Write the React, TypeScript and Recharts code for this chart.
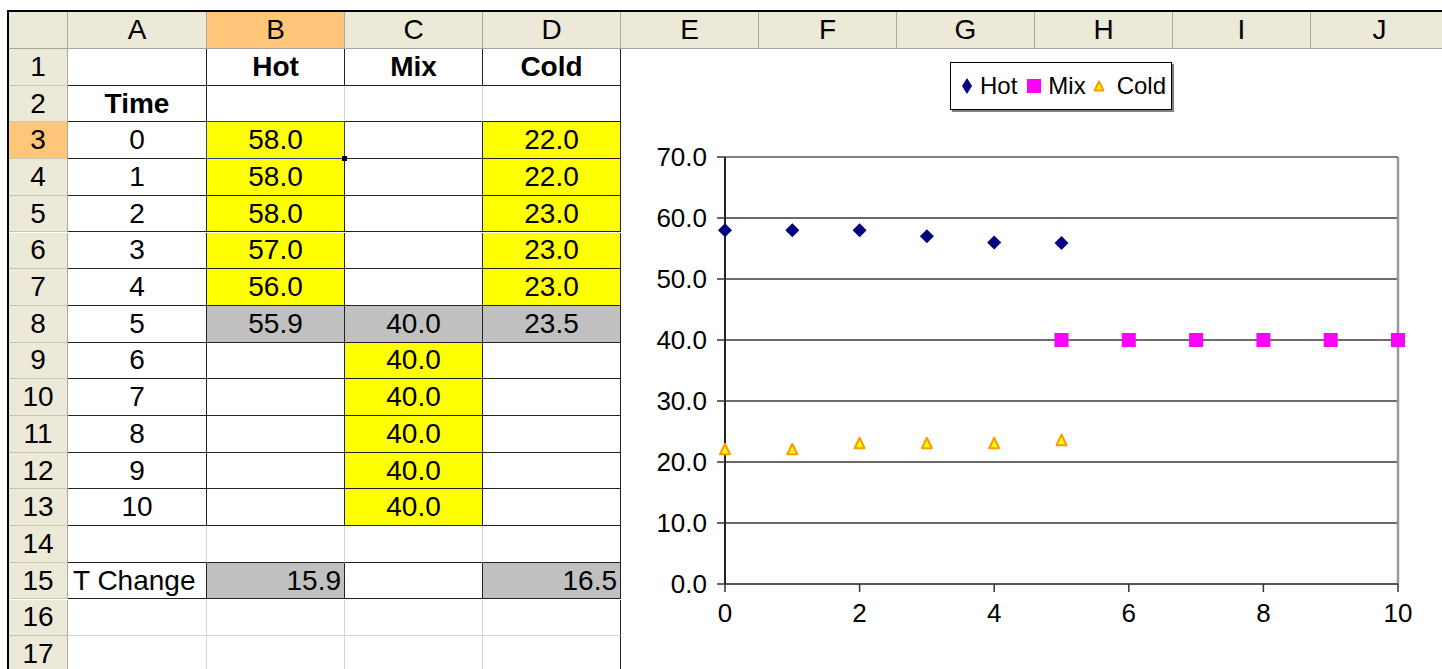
import React from 'react';
import { ScatterChart, Scatter, XAxis, YAxis, CartesianGrid, ReferenceLine, Legend } from 'recharts';

// ---------- data ----------
const seriesNames = ['Hot', 'Mix', 'Cold'];
const timeLabel = 'Time';
const times = [0, 1, 2, 3, 4, 5, 6, 7, 8, 9, 10];
const hotTimes = [0, 1, 2, 3, 4, 5];
const hotTemps = [58.0, 58.0, 58.0, 57.0, 56.0, 55.9];
const mixTimes = [5, 6, 7, 8, 9, 10];
const mixTemps = [40.0, 40.0, 40.0, 40.0, 40.0, 40.0];
const coldTimes = [0, 1, 2, 3, 4, 5];
const coldTemps = [22.0, 22.0, 23.0, 23.0, 23.0, 23.5];
const tChangeLabel = 'T Change';
const tChangeValues: (number | null)[] = [15.9, null, 16.5];
const columnLetters = ['A', 'B', 'C', 'D', 'E', 'F', 'G', 'H', 'I', 'J'];
const rowNumbers = [1, 2, 3, 4, 5, 6, 7, 8, 9, 10, 11, 12, 13, 14, 15, 16, 17];
const xTicks = [0, 2, 4, 6, 8, 10];
const yTicks = [0, 10, 20, 30, 40, 50, 60, 70];

// ---------- layout ----------
const FONT = "'Liberation Sans', Arial, sans-serif";
const colX = [68, 207, 345, 483, 621, 759, 897, 1035, 1173, 1311, 1449];
const HEADER_TOP = 12;
const HEADER_BOTTOM = 49;
const ROW_H = 36.7;
const rowTop = (r: number) => HEADER_BOTTOM + (r - 1) * ROW_H;
const BEIGE = '#ECE9D8';
const ORANGE = '#FFC67A';
const YELLOW = '#FFFF00';
const GRAY = '#C0C0C0';
const LIGHT = '#D4D4D4';

const hotPts = hotTimes.map((t, i) => ({ x: t, y: hotTemps[i] }));
const mixPts = mixTimes.map((t, i) => ({ x: t, y: mixTemps[i] }));
const coldPts = coldTimes.map((t, i) => ({ x: t, y: coldTemps[i] }));

type CellInfo = { text: string; fill: string; bold?: boolean; align: 'center' | 'left' | 'right' };

function seriesCell(t: number, ts: number[], vs: number[]): CellInfo {
  const idx = ts.indexOf(t);
  if (idx < 0) return { text: '', fill: '#fff', align: 'center' };
  const shared = t === mixTimes[0];
  return { text: vs[idx].toFixed(1), fill: shared ? GRAY : YELLOW, align: 'center' };
}

function getCell(r: number, c: number): CellInfo {
  const empty: CellInfo = { text: '', fill: '#fff', align: 'center' };
  if (r === 1) {
    if (c === 0) return empty;
    return { text: seriesNames[c - 1], fill: '#fff', bold: true, align: 'center' };
  }
  if (r === 2) {
    if (c === 0) return { text: timeLabel, fill: '#fff', bold: true, align: 'center' };
    return empty;
  }
  if (r >= 3 && r <= 13) {
    const t = times[r - 3];
    if (c === 0) return { text: String(t), fill: '#fff', align: 'center' };
    if (c === 1) return seriesCell(t, hotTimes, hotTemps);
    if (c === 2) return seriesCell(t, mixTimes, mixTemps);
    return seriesCell(t, coldTimes, coldTemps);
  }
  if (r === 15) {
    if (c === 0) return { text: tChangeLabel, fill: '#fff', align: 'left' };
    const v = tChangeValues[c - 1];
    if (v == null) return empty;
    return { text: v.toFixed(1), fill: GRAY, align: 'right' };
  }
  return empty;
}

function cellBorders(r: number, c: number) {
  const bottomBlack = r <= 15;
  let rightBlack = (r <= 13 || r === 15) && !(r === 2 && (c === 1 || c === 2));
  if (c === 3) rightBlack = true;
  return {
    borderBottom: `1.5px solid ${bottomBlack ? '#222' : LIGHT}`,
    borderRight: `1.5px solid ${rightBlack ? '#222' : LIGHT}`,
  };
}

// ---------- marker shapes ----------
const HotShape = (p: any) => (
  <path
    d={`M${p.cx},${p.cy - 7}L${p.cx + 7},${p.cy}L${p.cx},${p.cy + 7}L${p.cx - 7},${p.cy}Z`}
    fill="#000080"
  />
);
const MixShape = (p: any) => <rect x={p.cx - 7} y={p.cy - 7} width={14} height={14} fill="#FF00FF" />;
const ColdShape = (p: any) => (
  <path
    d={`M${p.cx},${p.cy - 6}L${p.cx + 5},${p.cy + 4.5}L${p.cx - 5},${p.cy + 4.5}Z`}
    fill="#FFFF00"
    stroke="#FF9900"
    strokeWidth={2}
    strokeLinejoin="round"
  />
);

const legendIcons = [
  <svg key="h" width={12} height={18}><path d="M6,1L11,9L6,17L1,9Z" fill="#000080" /></svg>,
  <svg key="m" width={14} height={14}><rect x={0} y={0} width={14} height={14} fill="#FF00FF" /></svg>,
  <svg key="c" width={12} height={12}><path d="M6,1.5L10.5,10.5L1.5,10.5Z" fill="#FFFF00" stroke="#FF9900" strokeWidth={2} strokeLinejoin="round" /></svg>,
];

const LegendBox = () => (
  <div
    style={{
      width: 222,
      height: 48,
      boxSizing: 'border-box',
      border: '1.5px solid #000',
      boxShadow: '2px 2px 0 #808080',
      background: '#fff',
      display: 'flex',
      alignItems: 'center',
      paddingLeft: 10,
      fontFamily: FONT,
      fontSize: 24,
      color: '#000',
    }}
  >
    {seriesNames.map((n, i) => (
      <span key={n} style={{ display: 'flex', alignItems: 'center', marginRight: i === 0 ? 10 : i === 1 ? 7 : 0 }}>
        {legendIcons[i]}
        <span style={{ marginLeft: i === 2 ? 12 : 7 }}>{n}</span>
      </span>
    ))}
  </div>
);

export default function App() {
  const cells: React.ReactNode[] = [];
  rowNumbers.forEach((r) => {
    for (let c = 0; c < 4; c++) {
      const info = getCell(r, c);
      cells.push(
        <div
          key={`c${r}-${c}`}
          style={{
            position: 'absolute',
            left: colX[c],
            top: rowTop(r),
            width: colX[c + 1] - colX[c],
            height: ROW_H,
            boxSizing: 'border-box',
            background: info.fill,
            ...cellBorders(r, c),
            display: 'flex',
            alignItems: 'center',
            justifyContent: info.align === 'center' ? 'center' : info.align === 'left' ? 'flex-start' : 'flex-end',
            paddingLeft: info.align === 'left' ? 5 : 0,
            paddingRight: info.align === 'right' ? 3 : 0,
            fontWeight: info.bold ? 'bold' : 'normal',
            fontSize: 28,
            whiteSpace: 'nowrap',
          }}
        >
          {info.text}
        </div>
      );
    }
  });

  return (
    <div
      style={{
        position: 'fixed',
        left: 0,
        top: 0,
        width: 1442,
        height: 669,
        overflow: 'hidden',
        background: '#fff',
        fontFamily: FONT,
        color: '#000',
      }}
    >
      {/* corner */}
      <div style={{ position: 'absolute', left: 9, top: HEADER_TOP, width: 59, height: HEADER_BOTTOM - HEADER_TOP, background: BEIGE, boxSizing: 'border-box', borderRight: '1px solid #ACA899', borderBottom: '1px solid #ACA899' }} />
      {/* column headers */}
      {columnLetters.map((L, i) => (
        <div
          key={L}
          style={{
            position: 'absolute',
            left: colX[i],
            top: HEADER_TOP,
            width: colX[i + 1] - colX[i],
            height: HEADER_BOTTOM - HEADER_TOP,
            background: i === 1 ? ORANGE : BEIGE,
            boxSizing: 'border-box',
            borderRight: '1px solid #ACA899',
            borderBottom: '1px solid #ACA899',
            display: 'flex',
            alignItems: 'center',
            justifyContent: 'center',
            fontSize: 28,
          }}
        >
          {L}
        </div>
      ))}
      {/* row headers */}
      {rowNumbers.map((r) => (
        <div
          key={`r${r}`}
          style={{
            position: 'absolute',
            left: 9,
            top: rowTop(r),
            width: 59,
            height: ROW_H,
            background: r === 3 ? ORANGE : BEIGE,
            boxSizing: 'border-box',
            borderRight: '1px solid #ACA899',
            borderBottom: '1px solid #C9C6B6',
            display: 'flex',
            alignItems: 'center',
            justifyContent: 'center',
            fontSize: 28,
          }}
        >
          {r}
        </div>
      ))}
      {cells}
      {/* active cell outline */}
      <div style={{ position: 'absolute', left: colX[1] - 1, top: rowTop(3) - 1, width: colX[2] - colX[1] + 1, height: ROW_H + 1, boxSizing: 'border-box', border: '1.5px solid #2F3F8F' }} />
      <div style={{ position: 'absolute', left: colX[2] - 3, top: rowTop(4) - 3, width: 5, height: 5, background: '#000' }} />

      {/* chart */}
      <div style={{ position: 'absolute', left: 622, top: HEADER_BOTTOM, width: 820, height: 620, background: '#fff' }}>
        <ScatterChart width={820} height={620} margin={{ top: 108, right: 44, bottom: 45, left: 0 }}>
          <CartesianGrid vertical={false} stroke="#3a3a3a" strokeWidth={1.5} />
          <XAxis
            type="number"
            dataKey="x"
            domain={[0, 10]}
            ticks={xTicks}
            height={40}
            tickSize={8}
            tickMargin={12}
            axisLine={{ stroke: '#555', strokeWidth: 2 }}
            tickLine={{ stroke: '#333', strokeWidth: 1.5 }}
            tick={{ fill: '#000', fontSize: 26, fontFamily: FONT }}
          />
          <YAxis
            type="number"
            dataKey="y"
            domain={[0, 70]}
            ticks={yTicks}
            width={103}
            tickSize={8}
            tickMargin={10}
            tickFormatter={(v: number) => v.toFixed(1)}
            axisLine={{ stroke: '#222', strokeWidth: 2 }}
            tickLine={{ stroke: '#333', strokeWidth: 1.5 }}
            tick={{ fill: '#000', fontSize: 26, fontFamily: FONT }}
          />
          <ReferenceLine x={10} stroke="#9a9a9a" strokeWidth={2.5} />
          <ReferenceLine y={70} stroke="#808080" strokeWidth={2} />
          <Legend
            layout="vertical"
            align="center"
            verticalAlign="middle"
            wrapperStyle={{ left: 328, top: 13, width: 222, height: 48 }}
            content={() => <LegendBox />}
          />
          <Scatter name={seriesNames[0]} data={hotPts} shape={HotShape} isAnimationActive={false} />
          <Scatter name={seriesNames[1]} data={mixPts} shape={MixShape} isAnimationActive={false} />
          <Scatter name={seriesNames[2]} data={coldPts} shape={ColdShape} isAnimationActive={false} />
        </ScatterChart>
      </div>

      {/* outer frame */}
      <div style={{ position: 'absolute', left: 7, top: 10, width: 1435, height: 2, background: '#000' }} />
      <div style={{ position: 'absolute', left: 7, top: 10, width: 2, height: 659, background: '#000' }} />
    </div>
  );
}
